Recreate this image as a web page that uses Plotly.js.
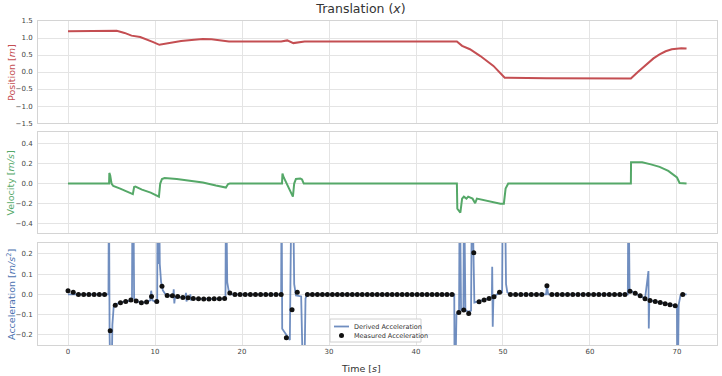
<!DOCTYPE html>
<html>
<head>
<meta charset="utf-8">
<script src="https://cdn.plot.ly/plotly-3.0.1.min.js"></script>
<style>html,body{margin:0;padding:0;background:#fff;}#chart{width:722px;height:376px;}</style>
</head>
<body>
<div id="chart"></div>
<script>
// Position [m]
const posT = [0, 4.9, 5.2, 5.6, 6.5, 7.3, 8.3, 9.0, 9.8, 10.5, 11.5, 13.0, 14.5, 15.5, 16.5, 17.5, 18.5, 24.5, 25.2, 25.9, 26.5, 27.2, 44.7, 45.3, 46.2, 47.4, 48.9, 50.2, 55.0, 64.7, 65.5, 66.5, 67.3, 68.0, 68.7, 69.4, 70.0, 70.5, 71.1];
const posV = [1.2, 1.2, 1.22, 1.21, 1.15, 1.07, 1.03, 0.97, 0.88, 0.8, 0.85, 0.91, 0.95, 0.97, 0.96, 0.92, 0.9, 0.9, 0.93, 0.85, 0.88, 0.9, 0.9, 0.77, 0.67, 0.47, 0.18, -0.17, -0.18, -0.19, 0.0, 0.22, 0.4, 0.52, 0.61, 0.67, 0.69, 0.7, 0.69];

// Velocity [m/s]
const velT = [0, 4.72, 4.75, 4.85, 5.0, 5.2, 6.0, 7.0, 7.45, 7.6, 7.75, 8.5, 9.5, 10.45, 10.6, 10.8, 11.1, 12.5, 14.0, 15.5, 17.0, 18.15, 18.4, 18.6, 24.6, 24.65, 24.8, 25.85, 26.0, 26.2, 26.7, 26.9, 27.1, 44.7, 44.75, 45.0, 45.1, 45.3, 45.5, 45.8, 46.0, 46.5, 46.8, 47.0, 47.5, 48.5, 49.7, 50.1, 50.3, 50.6, 64.7, 64.72, 66.0, 67.0, 68.0, 69.0, 70.0, 70.3, 71.1];
const velV = [0, 0, 0.105, 0.08, 0.0, -0.025, -0.05, -0.085, -0.105, -0.035, -0.03, -0.06, -0.09, -0.13, 0.0, 0.045, 0.055, 0.045, 0.03, 0.01, -0.02, -0.04, -0.005, 0, 0, 0.1, 0.06, -0.13, 0.0, 0.045, 0.05, 0.04, 0, 0, -0.25, -0.28, -0.29, -0.15, -0.13, -0.15, -0.13, -0.15, -0.195, -0.15, -0.16, -0.18, -0.2, -0.2, -0.05, 0, 0, 0.21, 0.21, 0.19, 0.165, 0.125, 0.06, 0.005, 0];

// Derived acceleration [m/s^2]
const dAccT = [0, 4.65, 4.7, 4.78, 4.95, 5.1, 5.25, 5.45, 6.0, 6.6, 7.2, 7.35, 7.42, 7.5, 7.6, 7.8, 8.4, 9.0, 9.45, 9.56, 9.7, 10.2, 10.25, 10.3, 10.38, 10.45, 10.55, 10.7, 10.9, 11.2, 11.5, 12.1, 12.15, 12.22, 12.3, 13.5, 13.56, 13.62, 13.7, 14.0, 14.06, 14.12, 14.2, 18.1, 18.16, 18.3, 18.5, 18.7, 24.5, 24.55, 24.62, 25.5, 25.7, 25.85, 26.0, 26.2, 26.8, 26.95, 27.1, 27.3, 27.5, 44.4, 44.45, 44.65, 44.95, 45.03, 45.18, 45.45, 45.52, 45.68, 46.06, 46.33, 46.44, 46.71, 47.2, 47.8, 48.4, 48.72, 48.76, 48.82, 48.9, 49.5, 49.9, 49.98, 50.2, 50.35, 50.5, 50.8, 54.95, 55.05, 55.2, 64.35, 64.42, 64.55, 65.2, 65.77, 66.33, 66.72, 66.76, 66.82, 66.9, 67.5, 68.07, 68.64, 69.2, 69.8, 70.0, 70.05, 70.2, 70.4, 70.7, 71.1];
const dAccV = [0, 0, 0.6, -0.2, -0.6, -0.15, -0.06, -0.05, -0.04, -0.035, -0.03, -0.03, 0.6, 0.6, -0.02, -0.033, -0.04, -0.038, -0.03, 0.018, -0.03, -0.037, -0.04, 0.6, 0.15, 0.6, 0.15, 0.06, 0.02, 0.0, -0.005, -0.008, 0.025, -0.045, -0.012, -0.016, 0.008, -0.035, -0.018, -0.02, 0.0, -0.03, -0.021, -0.022, 0.6, 0.06, 0.01, 0, 0, 0.6, -0.17, -0.225, 0.6, 0.6, 0.05, -0.005, -0.01, -0.6, -0.6, -0.02, 0, 0, -0.6, -0.1, -0.08, 0.6, -0.08, -0.07, 0.6, -0.08, -0.085, -0.08, 0.6, -0.04, -0.035, -0.03, -0.02, -0.015, 0.136, -0.16, -0.01, 0.005, 0.01, 0.6, 0.6, 0.05, 0.01, 0, 0, 0.04, 0, 0, 0.6, 0.02, 0.005, -0.007, -0.021, 0.115, -0.168, -0.03, -0.03, -0.035, -0.04, -0.046, -0.051, -0.056, -0.058, -0.6, -0.05, -0.005, 0, 0];

// Measured acceleration [m/s^2]
const measT = [0, 0.6, 1.2, 1.8, 2.4, 3.0, 3.6, 4.2, 4.85, 5.43, 6.03, 6.63, 7.23, 7.83, 8.43, 9.03, 9.6, 10.2, 10.8, 11.4, 12.0, 12.6, 13.2, 13.8, 14.4, 15.0, 15.6, 16.2, 16.8, 17.4, 18.0, 18.6,
  19.19, 19.78, 20.37, 20.96, 21.55, 22.14, 22.73, 23.32, 23.91, 24.5, 25.1, 25.75, 26.35,
  27.52, 28.09, 28.67, 29.24, 29.81, 30.39, 30.96, 31.53, 32.10, 32.68, 33.25, 33.82, 34.40, 34.97, 35.54, 36.12, 36.69, 37.26, 37.83, 38.41, 38.98, 39.55, 40.13, 40.70, 41.27, 41.85, 42.42, 42.99, 43.56, 44.14,
  44.92, 45.49, 46.06, 46.64, 47.25, 47.83, 48.4, 48.97, 49.6,
  50.85, 51.45, 52.05, 52.65, 53.25, 53.85, 54.45, 55.05,
  55.62, 56.22, 56.82, 57.42, 58.02, 58.62, 59.22, 59.82, 60.42, 61.02, 61.62, 62.22, 62.82, 63.42, 64.02,
  64.6, 65.2, 65.77, 66.33, 66.9, 67.5, 68.07, 68.64, 69.2, 69.8, 70.66];
const measV = [0.018, 0.01, 0, 0, 0, 0, 0, 0, -0.18, -0.054, -0.041, -0.035, -0.028, -0.033, -0.041, -0.038, -0.01, -0.035, 0.04, -0.005, -0.007, -0.011, -0.015, -0.017, -0.02, -0.022, -0.023, -0.023, -0.022, -0.021, -0.02, 0.007,
  0, 0, 0, 0, 0, 0, 0, 0, 0, 0, -0.214, -0.076, 0.01,
  0, 0, 0, 0, 0, 0, 0, 0, 0, 0, 0, 0, 0, 0, 0, 0, 0, 0, 0, 0, 0, 0, 0, 0, 0, 0, 0, 0, 0, 0,
  -0.09, -0.077, -0.094, 0.206, -0.036, -0.028, -0.02, -0.012, 0.01,
  0, 0, 0, 0, 0, 0, 0, 0.043,
  0, 0, 0, 0, 0, 0, 0, 0, 0, 0, 0, 0, 0, 0, 0,
  0.016, 0.005, -0.007, -0.021, -0.03, -0.035, -0.04, -0.046, -0.051, -0.056, 0];

const xTicks = [0, 10, 20, 30, 40, 50, 60, 70];
const posTicks = [-1.5, -1.0, -0.5, 0.0, 0.5, 1.0, 1.5];
const velTicks = [-0.4, -0.2, 0.0, 0.2, 0.4];
const accTicks = [-0.2, -0.1, 0.0, 0.1, 0.2];
const legendNames = ['Derived Acceleration', 'Measured Acceleration'];

const RED = '#C44E52', GREEN = '#55A868', BLUE = '#4C72B0';
const DERIVED = 'rgba(76,114,176,0.8)';
const GRID = '#e4e4e4', FRAME = '#d4d4d4';
const FONT = 'DejaVu Sans, sans-serif';

const traces = [
  {x: posT, y: posV, xaxis: 'x', yaxis: 'y', mode: 'lines', line: {color: RED, width: 2}, hoverinfo: 'skip'},
  {x: velT, y: velV, xaxis: 'x2', yaxis: 'y2', mode: 'lines', line: {color: GREEN, width: 2}, hoverinfo: 'skip'},
  {x: dAccT, y: dAccV, xaxis: 'x3', yaxis: 'y3', mode: 'lines', name: legendNames[0], line: {color: DERIVED, width: 1.8}},
  {x: measT, y: measV, xaxis: 'x3', yaxis: 'y3', mode: 'markers', name: legendNames[1], marker: {color: '#111', size: 5}, cliponaxis: true}
];

const xRange = [-3.45, 74.6];
function xax(extra) {
  return Object.assign({range: xRange, tickvals: xTicks, showgrid: true, gridcolor: GRID, gridwidth: 1,
    zeroline: false, showline: true, linecolor: FRAME, linewidth: 1, mirror: true, ticks: '',
    tickfont: {family: FONT, size: 7, color: '#444'}}, extra);
}
function yax(domain, range, ticks) {
  return {domain: domain, range: range, tickvals: ticks, tickformat: '.1f', showgrid: true, gridcolor: GRID, gridwidth: 1,
    zeroline: false, showline: true, linecolor: FRAME, linewidth: 1, mirror: true, ticks: '',
    ticklabelstandoff: 3, tickfont: {family: FONT, size: 7, color: '#444'}};
}

// compact legend (paper coords inside bottom panel)
const P = (px) => (px - 38) / 679;      // pixel x -> paper x
const Q = (py) => (345 - py) / 324;     // pixel y -> paper y
const legendShapes = [
  {type: 'rect', xref: 'paper', yref: 'paper', x0: P(330), x1: P(421), y0: Q(342), y1: Q(319),
   fillcolor: 'rgba(255,255,255,0.85)', line: {color: '#d0d0d0', width: 1}, layer: 'above'},
  {type: 'line', xref: 'paper', yref: 'paper', x0: P(334), x1: P(349), y0: Q(326.5), y1: Q(326.5),
   line: {color: DERIVED, width: 1.8}, layer: 'above'},
  {type: 'circle', xref: 'paper', yref: 'paper', xsizemode: 'pixel', ysizemode: 'pixel',
   xanchor: P(341.5), yanchor: Q(335.5), x0: -2.5, x1: 2.5, y0: -2.5, y1: 2.5,
   fillcolor: '#111', line: {color: '#111', width: 0}, layer: 'above'}
];

const layout = {
  width: 722, height: 376,
  margin: {l: 38, r: 5, t: 21, b: 31},
  paper_bgcolor: '#fff', plot_bgcolor: '#fff',
  font: {family: FONT, color: '#333'},
  showlegend: false,
  title: {text: 'Translation (<i>x</i>)', font: {family: FONT, size: 12.5, color: '#333'}, x: 0.5, xref: 'container', xanchor: 'center', y: 0.978, yref: 'container', yanchor: 'middle'},
  xaxis: xax({anchor: 'y', showticklabels: false}),
  xaxis2: xax({anchor: 'y2', matches: 'x', showticklabels: false}),
  xaxis3: xax({anchor: 'y3', matches: 'x', showticklabels: true, ticklabelstandoff: 0}),
  yaxis: yax([0.685, 1], [-1.5, 1.5], posTicks),
  yaxis2: yax([0.346, 0.657], [-0.49, 0.51], velTicks),
  yaxis3: yax([0, 0.315], [-0.25, 0.254], accTicks),
  shapes: legendShapes,
  annotations: [
    {text: 'Position [<i>m</i>]', xref: 'paper', yref: 'paper', x: -0.0398, y: 0.8425, textangle: -90, showarrow: false, xanchor: 'center', yanchor: 'middle', font: {family: FONT, size: 9.5, color: RED}},
    {text: 'Velocity [<i>m/s</i>]', xref: 'paper', yref: 'paper', x: -0.0398, y: 0.5015, textangle: -90, showarrow: false, xanchor: 'center', yanchor: 'middle', font: {family: FONT, size: 9.5, color: GREEN}},
    {text: 'Acceleration [<i>m/s</i><sup>2</sup>]', xref: 'paper', yref: 'paper', x: -0.0398, y: 0.1575, textangle: -90, showarrow: false, xanchor: 'center', yanchor: 'middle', font: {family: FONT, size: 9.5, color: BLUE}},
    {text: 'Time [<i>s</i>]', xref: 'paper', yref: 'paper', x: 0.4757, y: -0.071, showarrow: false, xanchor: 'center', yanchor: 'middle', font: {family: FONT, size: 9.5, color: '#333'}},
    {text: legendNames[0], xref: 'paper', yref: 'paper', x: P(352), y: Q(326.5), showarrow: false, xanchor: 'left', yanchor: 'middle', font: {family: FONT, size: 6.5, color: '#333'}},
    {text: legendNames[1], xref: 'paper', yref: 'paper', x: P(352), y: Q(335.5), showarrow: false, xanchor: 'left', yanchor: 'middle', font: {family: FONT, size: 6.5, color: '#333'}}
  ]
};

Plotly.newPlot('chart', traces, layout, {staticPlot: true, displayModeBar: false});
</script>
</body>
</html>
